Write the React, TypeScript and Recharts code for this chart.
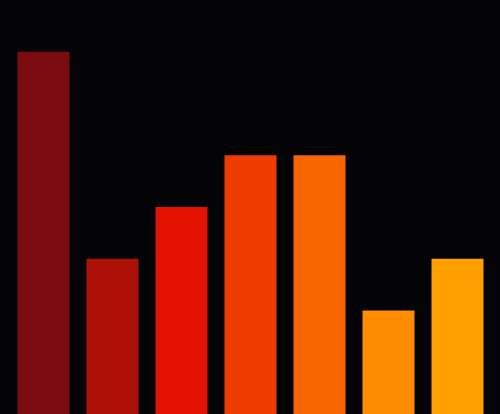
import React from "react";
import { BarChart, Bar, XAxis, YAxis, Cell } from "recharts";

const categories = ["A", "B", "C", "D", "E", "F", "G"];
const values = [7, 3, 4, 5, 5, 2, 3];
const colors = ["#7a0c11", "#ad1007", "#e21401", "#ee3c00", "#f96500", "#ff8c00", "#ffa000"];

const data = categories.map((name, i) => ({ name, value: values[i] }));

export default function App() {
  return (
    <div
      style={{
        position: "absolute",
        left: 0,
        top: 0,
        width: 500,
        height: 414,
        background: "#040306",
        overflow: "hidden",
      }}
    >
      <BarChart
        width={500}
        height={414}
        data={data}
        margin={{ top: 0, right: 8.5, bottom: 0, left: 8.5 }}
        barSize={52}
      >
        <XAxis dataKey="name" hide />
        <YAxis hide domain={[0, 8]} />
        <Bar dataKey="value" isAnimationActive={false}>
          {data.map((d, i) => (
            <Cell key={d.name} fill={colors[i]} />
          ))}
        </Bar>
      </BarChart>
    </div>
  );
}
